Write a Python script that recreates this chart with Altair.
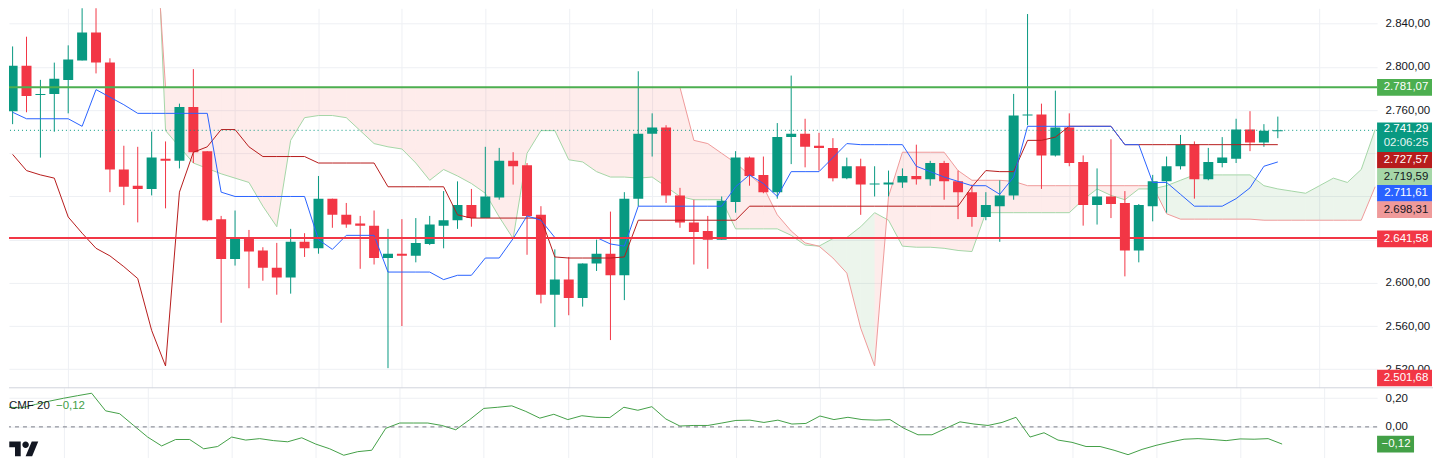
import altair as alt
import pandas as pd

# ---------------- data ----------------
opens = [2759, 2801, 2774, 2775, 2788, 2806, 2832, 2804, 2705, 2690,
         2687, 2715, 2713, 2763, 2722, 2659, 2622, 2641, 2630, 2614,
         2605, 2638, 2632, 2678, 2663, 2655, 2653, 2623, 2627, 2625,
         2636, 2653, 2658, 2672, 2660, 2679, 2713, 2709, 2663, 2589,
         2603, 2586, 2618, 2627, 2607, 2678, 2738, 2744, 2681, 2656,
         2648, 2640, 2675, 2716, 2700, 2684, 2735, 2738, 2727, 2725,
         2697, 2708, 2691, 2691, 2693, 2699, 2696, 2711, 2694, 2684,
         2661, 2671, 2681, 2755, 2756, 2718, 2744, 2712, 2672, 2680,
         2674, 2630, 2671, 2694, 2708, 2728, 2696, 2711, 2715, 2742,
         2730, 2740.5]
highs = [2819, 2828, 2788, 2804, 2820, 2857, 2858, 2808, 2727, 2726,
         2740, 2731, 2766, 2798, 2722, 2662, 2667, 2649, 2633, 2637,
         2650, 2646, 2699, 2678, 2674, 2662, 2667, 2650, 2659, 2660,
         2662, 2685, 2694, 2687, 2726, 2725, 2721, 2711, 2671, 2631,
         2624, 2618, 2640, 2666, 2684, 2796, 2757, 2746, 2688, 2677,
         2662, 2680, 2722, 2717, 2717, 2748, 2792, 2752, 2739, 2734,
         2716, 2715, 2708, 2704, 2706, 2728, 2713, 2713, 2704, 2691,
         2684, 2695, 2775, 2849, 2766, 2778, 2757, 2718, 2706, 2733,
         2685, 2673, 2700, 2717, 2737, 2731, 2725, 2735, 2752, 2759,
         2747, 2754]
lows = [2747, 2758, 2716, 2740, 2757, 2806, 2794, 2684, 2672, 2656,
        2681, 2669, 2706, 2711, 2657, 2563, 2616, 2595, 2602, 2589,
        2590, 2624, 2627, 2651, 2651, 2613, 2617, 2521, 2560, 2619,
        2635, 2632, 2650, 2652, 2660, 2677, 2691, 2626, 2581, 2559,
        2570, 2578, 2611, 2547, 2584, 2671, 2717, 2674, 2651, 2617,
        2613, 2640, 2665, 2690, 2683, 2678, 2710, 2707, 2704, 2694,
        2696, 2663, 2680, 2680, 2688, 2691, 2690, 2677, 2659, 2652,
        2658, 2638, 2677, 2746, 2687, 2717, 2708, 2653, 2654, 2660,
        2606, 2619, 2657, 2665, 2705, 2678, 2695, 2707, 2711, 2722,
        2726, 2734]
closes = [2801, 2773, 2775, 2789, 2807, 2832, 2804, 2705, 2689, 2687,
          2716, 2713, 2763, 2721, 2658, 2622, 2641, 2629, 2614, 2605,
          2638, 2632, 2678, 2663, 2654, 2653, 2623, 2627, 2625, 2637,
          2654, 2658, 2672, 2660, 2680, 2713, 2708, 2662, 2589, 2603,
          2586, 2618, 2627, 2607, 2678, 2738, 2744, 2681, 2656, 2647,
          2640, 2676, 2716, 2699, 2684, 2735, 2738, 2726, 2725, 2697,
          2708, 2691, 2692, 2693, 2699, 2696, 2711, 2694, 2684, 2661,
          2672, 2681, 2755, 2756, 2718, 2744, 2711, 2672, 2680, 2673,
          2630, 2672, 2694, 2708, 2728, 2696, 2712, 2716, 2742, 2730,
          2741, 2741.29]

# Ichimoku conversion (Tenkan) and base (Kijun) lines
tenkan = [2758, 2752, 2752, 2752, 2752, 2745, 2779, 2772, 2765, 2757,
          2757, 2757, 2757, 2757, 2757, 2684, 2680, 2680, 2680, 2680,
          2680, 2680, 2640, 2631, 2644, 2644, 2644, 2610, 2610, 2610,
          2610, 2603, 2607, 2607, 2623, 2623, 2641, 2662, 2658, 2642,
          2642, 2642, 2642, 2636, 2634, 2671, 2671, 2671, 2671, 2671,
          2671, 2671, 2689, 2700, 2692, 2680, 2703, 2703, 2703, 2716,
          2729, 2728, 2728, 2728, 2728, 2708, 2703, 2698, 2694, 2690,
          2690, 2682, 2698, 2745, 2745, 2745, 2745, 2745, 2745, 2745,
          2728, 2728, 2693, 2693, 2682, 2671, 2671, 2671, 2678, 2688,
          2708, 2712]
kijun = [2719, 2704, 2700, 2697, 2661, 2646, 2632, 2625, 2615, 2604,
         2556, 2523, 2684, 2721, 2726, 2742, 2742, 2726, 2717, 2717,
         2717, 2717, 2711, 2711, 2711, 2711, 2711, 2689, 2689, 2689,
         2689, 2689, 2663, 2660, 2660, 2660, 2660, 2660, 2660, 2624,
         2623, 2623, 2623, 2623, 2624, 2658, 2658, 2658, 2658, 2658,
         2658, 2658, 2658, 2671, 2671, 2671, 2671, 2671, 2671, 2671,
         2671, 2671, 2671, 2671, 2671, 2671, 2671, 2671, 2671, 2689,
         2704, 2703, 2703, 2732, 2732, 2735, 2745, 2745, 2745, 2745,
         2728, 2728, 2728, 2728, 2728, 2728, 2728, 2728, 2728, 2728,
         2728, 2728]

# Leading spans (already shifted forward), from candle index SPAN_START on
SPAN_START = 10
span_a = [3050, 2741, 2726, 2711, 2706, 2701, 2697, 2693, 2671, 2652,
          2732, 2753, 2755, 2755, 2753, 2741, 2729, 2726, 2724, 2711,
          2695, 2705, 2699, 2692, 2683, 2661, 2641, 2720, 2741, 2741,
          2714, 2712, 2703, 2698, 2698, 2697, 2698, 2689, 2680, 2677,
          2677, 2677, 2650, 2650, 2650, 2650, 2644, 2635, 2634, 2641,
          2642, 2652, 2665, 2658, 2634, 2633, 2633, 2632, 2630, 2629,
          2665, 2665, 2665, 2665, 2665, 2665, 2665, 2677, 2687, 2681,
          2677, 2687, 2687, 2690, 2695, 2700, 2700, 2700, 2700, 2700,
          2690, 2687, 2685, 2683, 2690, 2697, 2693, 2705, 2742]
span_b = [2980, 2781, 2781, 2781, 2781, 2781, 2781, 2781, 2781, 2781,
          2781, 2781, 2781, 2781, 2781, 2781, 2781, 2781, 2781, 2781,
          2781, 2781, 2781, 2781, 2781, 2781, 2781, 2781, 2781, 2781,
          2781, 2781, 2781, 2781, 2781, 2781, 2781, 2781, 2781, 2732,
          2729, 2720, 2711, 2700, 2689, 2663, 2648, 2637, 2634, 2623,
          2609, 2558, 2523, 2680, 2721, 2721, 2721, 2721, 2704, 2695,
          2695, 2695, 2694, 2690, 2690, 2690, 2690, 2690, 2690, 2690,
          2690, 2690, 2690, 2664, 2659, 2659, 2659, 2659, 2659, 2659,
          2658, 2658, 2658, 2658, 2658, 2658, 2658, 2658, 2689]

# Chaikin Money Flow (20)
cmf = [0.137, 0.133, 0.157, 0.18, 0.20, 0.218, 0.235, 0.112, 0.092, 0.01,
       -0.071, -0.133, -0.088, -0.088, -0.153, -0.137, -0.071, -0.092, -0.082, -0.096,
       -0.104, -0.076, -0.12, -0.153, -0.198, -0.173, -0.163, -0.01, 0.027, 0.027,
       0.027, 0.01, -0.02, 0.051, 0.129, 0.137, 0.147, 0.108, 0.061, 0.088,
       0.051, 0.078, 0.067, 0.065, 0.137, 0.116, 0.141, 0.055, 0.006, 0.01,
       0.01, 0.027, 0.045, 0.047, 0.031, 0.047, 0.02, 0.024, 0.076, 0.051,
       0.067, 0.051, 0.047, 0.051, -0.01, -0.055, -0.055, -0.01, 0.035, 0.02,
       0.01, 0.031, 0.067, -0.071, -0.041, -0.092, -0.108, -0.137, -0.137, -0.163,
       -0.194, -0.157, -0.129, -0.106, -0.086, -0.082, -0.088, -0.096, -0.084, -0.086,
       -0.082, -0.12]

resistance = 2781.07
support = 2641.58
last_price = 2741.29
countdown = "02:06:25"
kijun_last = 2727.57
span_a_last = 2719.59
tenkan_last = 2711.61
span_b_last = 2698.31
low_marker = 2501.68
price_ticks = [2520, 2560, 2600, 2640, 2680, 2720, 2760, 2800, 2840]
hidden_ticks = [2640, 2680, 2720]          # covered by the price tags in the reference
cmf_ticks = [0.2, 0.0]

# ---------------- layout / style ----------------
W = 1370
HM = 380
HC = 70
XD = [0.1, 97.78]
YD = [2502.8, 2854.3]
CD = [-0.215, 0.273]
XGRID = list(range(4, 98, 6))
FONT = "Liberation Sans, Arial, sans-serif"
FS = 11.5
TXT = "#131722"
GRID = "#EEF0F4"
UP = "#089981"
DOWN = "#F23645"
LEXPR = ("indexof(" + str(hidden_ticks) + ", datum.value) >= 0 ? '' : "
         "replace(replace(replace(format(datum.value, ',.2f'), ',', '#'), '.', ','), '#', '.')")
COLSCALE = alt.Scale(domain=["up", "down", "bull", "bear"], range=[UP, DOWN, "#43A047", "#F44336"])


def tr(v):
    s = f"{v:,.2f}"
    return s.replace(",", "#").replace(".", ",").replace("#", ".").replace("-", "\u2212")


def X():
    return alt.X("i:Q", scale=alt.Scale(domain=XD, nice=False, zero=False),
                 axis=alt.Axis(values=XGRID, grid=True, gridColor=GRID, labels=False,
                               ticks=False, domain=False, title=None))


def PY(field):
    return alt.Y(field, type="quantitative",
                 scale=alt.Scale(domain=YD, nice=False, zero=False),
                 axis=alt.Axis(orient="right", values=price_ticks, grid=True, gridColor=GRID,
                               domain=False, ticks=False, labelPadding=8, labelFont=FONT,
                               labelFontSize=FS, labelColor=TXT, labelExpr=LEXPR,
                               title=None, zindex=0))


def CY(field):
    return alt.Y(field, type="quantitative",
                 scale=alt.Scale(domain=CD, nice=False, zero=False),
                 axis=alt.Axis(orient="right", values=cmf_ticks, grid=True, gridColor=GRID,
                               domain=False, ticks=False, labelPadding=8, labelFont=FONT,
                               labelFontSize=FS, labelColor=TXT,
                               labelExpr="replace(format(datum.value, '.2f'), '.', ',')",
                               title=None, zindex=0))


def box_path(hw, hh):
    return f"M{-hw},{-hh}L{hw},{-hh}L{hw},{hh}L{-hw},{hh}Z"


n = len(opens)
idx = list(range(n))
cdf = pd.DataFrame({"i": idx, "o": opens, "h": highs, "l": lows, "c": closes})
cdf["dir"] = ["up" if c >= o else "down" for o, c in zip(opens, closes)]
ldf = pd.DataFrame({"i": idx, "tenkan": tenkan, "kijun": kijun, "cmf": cmf})
sidx = [SPAN_START + k for k in range(len(span_a))]
sdf = pd.DataFrame({"i": sidx, "a": span_a, "b": span_b})

seg_rows = []
for k in range(len(span_a) - 1):
    kind = "bull" if span_a[k + 1] >= span_b[k + 1] else "bear"
    for j in (k, k + 1):
        seg_rows.append({"seg": k, "i": SPAN_START + j, "a": span_a[j], "b": span_b[j], "kind": kind})
segdf = pd.DataFrame(seg_rows)

cloud = alt.Chart(segdf).mark_area(clip=True, opacity=0.1).encode(
    x=X(), y=PY("a:Q"), y2="b:Q", detail="seg:N",
    color=alt.Color("kind:N", scale=COLSCALE, legend=None))
line_a = alt.Chart(sdf).mark_line(clip=True, color="#A5D6A7", strokeWidth=1).encode(x=X(), y=PY("a:Q"))
line_b = alt.Chart(sdf).mark_line(clip=True, color="#EF9A9A", strokeWidth=1).encode(x=X(), y=PY("b:Q"))
wick = alt.Chart(cdf).mark_rule(clip=True, strokeWidth=1).encode(
    x=X(), y=PY("l:Q"), y2="h:Q", color=alt.Color("dir:N", scale=COLSCALE, legend=None))
body = alt.Chart(cdf).mark_bar(clip=True, width=10).encode(
    x=X(), y=PY("o:Q"), y2="c:Q", color=alt.Color("dir:N", scale=COLSCALE, legend=None))
kline = alt.Chart(ldf).mark_line(clip=True, color="#B71C1C", strokeWidth=1).encode(x=X(), y=PY("kijun:Q"))
tline = alt.Chart(ldf).mark_line(clip=True, color="#2962FF", strokeWidth=1).encode(x=X(), y=PY("tenkan:Q"))
res = alt.Chart(pd.DataFrame({"p": [resistance]})).mark_rule(color="#4CAF50", strokeWidth=2).encode(y=PY("p:Q"))
sup = alt.Chart(pd.DataFrame({"p": [support]})).mark_rule(color="#F23645", strokeWidth=2).encode(y=PY("p:Q"))
lastline = alt.Chart(pd.DataFrame({"p": [last_price]})).mark_rule(
    color=UP, strokeWidth=1, strokeDash=[1, 3]).encode(y=PY("p:Q"))

main_layers = [cloud, line_a, line_b, wick, body, kline, tline, res, sup, lastline]

# price tags on the right-hand scale: (value, background, text colour, vertical shift in px)
tag_specs = [
    (resistance, "#4CAF50", "#FFFFFF", 0),
    (kijun_last, "#B71C1C", "#FFFFFF", 15),
    (span_a_last, "#A5D6A7", TXT, 23),
    (tenkan_last, "#2962FF", "#FFFFFF", 31),
    (span_b_last, "#EF9A9A", TXT, 33),
    (support, "#F23645", "#FFFFFF", 1),
    (low_marker, "#F23645", "#FFFFFF", -11),
]
BX = W + 27.5
TX = W + 29
for v, bg, fg, off in tag_specs:
    d = pd.DataFrame({"p": [v], "t": [tr(v)]})
    main_layers.append(alt.Chart(d).mark_point(shape=box_path(1, 0.304), size=3025, filled=True,
                                                color=bg, opacity=1, yOffset=off)
                       .encode(x=alt.value(BX), y=PY("p:Q")))
    main_layers.append(alt.Chart(d).mark_text(font=FONT, fontSize=FS, color=fg, align="center",
                                               baseline="middle", yOffset=off)
                       .encode(x=alt.value(TX), y=PY("p:Q"), text="t:N"))

dl = pd.DataFrame({"p": [last_price], "t": [tr(last_price)], "cd": [countdown]})
main_layers.append(alt.Chart(dl).mark_point(shape=box_path(1, 0.535), size=3025, filled=True,
                                            color=UP, opacity=1, yOffset=7)
                   .encode(x=alt.value(BX), y=PY("p:Q")))
main_layers.append(alt.Chart(dl).mark_text(font=FONT, fontSize=FS, color="#FFFFFF", align="center",
                                           baseline="middle", yOffset=-1)
                   .encode(x=alt.value(TX), y=PY("p:Q"), text="t:N"))
main_layers.append(alt.Chart(dl).mark_text(font=FONT, fontSize=FS, color="#E6F5F2", align="center",
                                           baseline="middle", yOffset=13)
                   .encode(x=alt.value(TX), y=PY("p:Q"), text="cd:N"))

main = alt.layer(*main_layers).properties(width=W, height=HM)

# ---------------- CMF panel ----------------
one = pd.DataFrame({"k": [0]})
zero = alt.Chart(pd.DataFrame({"z": [0.0]})).mark_rule(color="#787B86", strokeWidth=1,
                                                        strokeDash=[4, 4]).encode(y=CY("z:Q"))
cmf_line = alt.Chart(ldf).mark_line(clip=True, color="#43A047", strokeWidth=1).encode(x=X(), y=CY("cmf:Q"))
sep = alt.Chart(one).mark_rule(color="#D1D4DC", strokeWidth=1).encode(
    x=alt.value(0), x2=alt.value(W + 56), y=alt.value(0))
leg1 = alt.Chart(pd.DataFrame({"t": ["CMF 20"]})).mark_text(
    font=FONT, fontSize=FS, color=TXT, align="left", baseline="middle").encode(
    x=alt.value(0), y=alt.value(18), text="t:N")
leg2 = alt.Chart(pd.DataFrame({"t": [tr(cmf[-1])]})).mark_text(
    font=FONT, fontSize=FS, color="#43A047", align="left", baseline="middle").encode(
    x=alt.value(47), y=alt.value(18), text="t:N")
dc = pd.DataFrame({"v": [cmf[-1]], "t": [tr(cmf[-1])]})
ctag_box = alt.Chart(dc).mark_point(shape=box_path(0.673, 0.304), size=3025, filled=True,
                                    color="#43A047", opacity=1).encode(x=alt.value(W + 18.5), y=CY("v:Q"))
ctag_txt = alt.Chart(dc).mark_text(font=FONT, fontSize=FS, color="#FFFFFF", align="center",
                                   baseline="middle").encode(x=alt.value(W + 19), y=CY("v:Q"), text="t:N")
LOGO = ("M-0.222,0.444L-0.611,0.444L-0.611,-0.167L-1,-0.167L-1,-0.556L-0.222,-0.556Z"
        "M0.556,0.444L0.111,0.444L0.528,-0.556L0.972,-0.556Z"
        "M-0.111,-0.333A0.222,0.222,0,1,0,0.333,-0.333A0.222,0.222,0,1,0,-0.111,-0.333Z")
logo = alt.Chart(one).mark_point(shape=LOGO, size=866, filled=True, color=TXT, opacity=1).encode(
    x=alt.value(15), y=alt.value(62))

lower = alt.layer(cmf_line, zero, sep, leg1, leg2, ctag_box, ctag_txt, logo).properties(width=W, height=HC)

chart = alt.vconcat(main, lower, spacing=0, bounds="flush").properties(
    padding=0, background="white").configure_view(strokeWidth=0)

chart.save("out.html", embed_options={"renderer": "svg", "actions": False})
